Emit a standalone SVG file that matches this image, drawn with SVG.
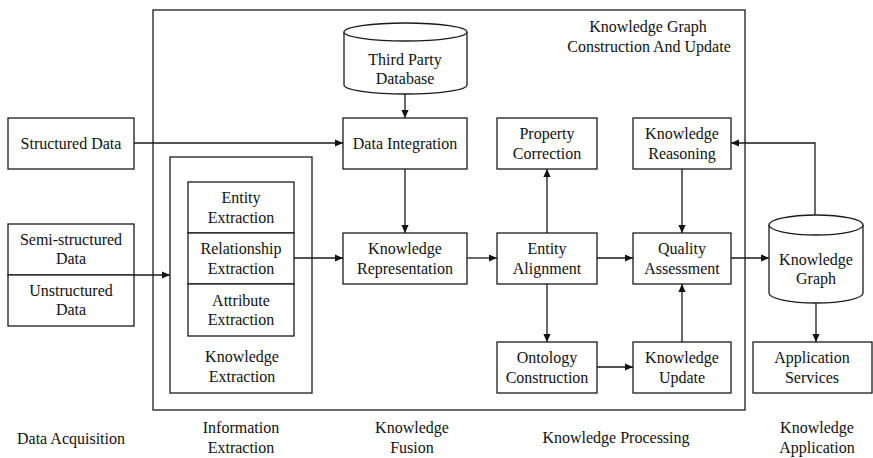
<svg xmlns="http://www.w3.org/2000/svg" width="873" height="458" viewBox="0 0 873 458">
<style>
.b{fill:#fff;stroke:#1a1a1a;stroke-width:1.3}
.f{fill:none;stroke:#1a1a1a;stroke-width:1.3}
.t{font-family:"Liberation Serif","Times New Roman",serif;font-size:16px;fill:#111;text-anchor:middle}
.c{fill:none;stroke:#1a1a1a;stroke-width:1.3;marker-end:url(#ah)}
</style>
<defs>
<marker id="ah" viewBox="0 0 10 10" refX="10" refY="5" markerWidth="8" markerHeight="8" markerUnits="userSpaceOnUse" orient="auto">
<path d="M0,0.5 L10,5 L0,9.5 Z" fill="#111"/>
</marker>
</defs>
<rect class="f" x="153" y="10" width="592" height="400"/>
<text class="t" x="648" y="32">Knowledge Graph</text>
<text class="t" x="649" y="52">Construction And Update</text>

<g id="structured"><rect class="b" x="8" y="118" width="126" height="51"/><text class="t" x="71" y="149">Structured Data</text></g>
<g id="semi"><rect class="b" x="8" y="224" width="126" height="51"/><text class="t" x="71" y="245">Semi-structured</text><text class="t" x="71" y="264">Data</text></g>
<g id="unstructured"><rect class="b" x="8" y="275" width="126" height="51"/><text class="t" x="71" y="296">Unstructured</text><text class="t" x="71" y="315">Data</text></g>

<g id="ke"><rect class="b" x="170" y="157" width="142" height="236"/><text class="t" x="242" y="362">Knowledge</text><text class="t" x="242" y="382">Extraction</text></g>
<g id="entity-ext"><rect class="b" x="188" y="182" width="106" height="51"/><text class="t" x="241" y="203">Entity</text><text class="t" x="241" y="223">Extraction</text></g>
<g id="rel-ext"><rect class="b" x="188" y="233" width="106" height="51"/><text class="t" x="241" y="254">Relationship</text><text class="t" x="241" y="274">Extraction</text></g>
<g id="attr-ext"><rect class="b" x="188" y="284" width="106" height="52"/><text class="t" x="241" y="306">Attribute</text><text class="t" x="241" y="325">Extraction</text></g>

<g id="tpdb">
<path class="b" d="M344,32 L344,85 A61.5,9 0 0 0 467,85 L467,32"/>
<ellipse class="b" cx="405.5" cy="32" rx="61.5" ry="9"/>
<text class="t" x="405" y="65">Third Party</text><text class="t" x="405" y="84">Database</text>
</g>
<g id="di"><rect class="b" x="343" y="118" width="124" height="51"/><text class="t" x="405" y="149">Data Integration</text></g>
<g id="kr"><rect class="b" x="343" y="233" width="124" height="51"/><text class="t" x="405" y="254">Knowledge</text><text class="t" x="405" y="274">Representation</text></g>
<g id="pc"><rect class="b" x="497" y="118" width="100" height="51"/><text class="t" x="547" y="139">Property</text><text class="t" x="547" y="159">Correction</text></g>
<g id="ea"><rect class="b" x="497" y="233" width="100" height="51"/><text class="t" x="547" y="254">Entity</text><text class="t" x="547" y="274">Alignment</text></g>
<g id="oc"><rect class="b" x="497" y="342" width="100" height="51"/><text class="t" x="547" y="363">Ontology</text><text class="t" x="547" y="383">Construction</text></g>
<g id="kreason"><rect class="b" x="633" y="118" width="98" height="51"/><text class="t" x="682" y="139">Knowledge</text><text class="t" x="682" y="159">Reasoning</text></g>
<g id="qa"><rect class="b" x="633" y="233" width="98" height="51"/><text class="t" x="682" y="254">Quality</text><text class="t" x="682" y="274">Assessment</text></g>
<g id="ku"><rect class="b" x="633" y="342" width="98" height="51"/><text class="t" x="682" y="363">Knowledge</text><text class="t" x="682" y="383">Update</text></g>
<g id="kg">
<path class="b" d="M769,225 L769,293 A47,10 0 0 0 863,293 L863,225"/>
<ellipse class="b" cx="816" cy="225" rx="47" ry="10"/>
<text class="t" x="816" y="265">Knowledge</text><text class="t" x="816" y="284">Graph</text>
</g>
<g id="as"><rect class="b" x="753" y="342" width="119" height="51"/><text class="t" x="812" y="363">Application</text><text class="t" x="812" y="383">Services</text></g>

<g id="connectors">
<path class="c" d="M134,143 L343,143"/>
<path class="c" d="M134,275 L170,275"/>
<path class="c" d="M294,258 L343,258"/>
<path class="c" d="M405,94 L405,118"/>
<path class="c" d="M405,169 L405,233"/>
<path class="c" d="M467,258 L497,258"/>
<path class="c" d="M547,233 L547,169"/>
<path class="c" d="M547,284 L547,342"/>
<path class="c" d="M597,258 L633,258"/>
<path class="c" d="M597,367 L633,367"/>
<path class="c" d="M682,342 L682,284"/>
<path class="c" d="M682,169 L682,233"/>
<path class="c" d="M731,258 L769,258"/>
<path class="c" d="M815,215 L815,143 L731,143"/>
<path class="c" d="M816,303 L816,342"/>
</g>

<g id="stages">
<text class="t" x="71" y="444">Data Acquisition</text>
<text class="t" x="241" y="433">Information</text><text class="t" x="241" y="453">Extraction</text>
<text class="t" x="412" y="433">Knowledge</text><text class="t" x="412" y="453">Fusion</text>
<text class="t" x="616" y="443">Knowledge Processing</text>
<text class="t" x="817" y="433">Knowledge</text><text class="t" x="817" y="453">Application</text>
</g>
</svg>
